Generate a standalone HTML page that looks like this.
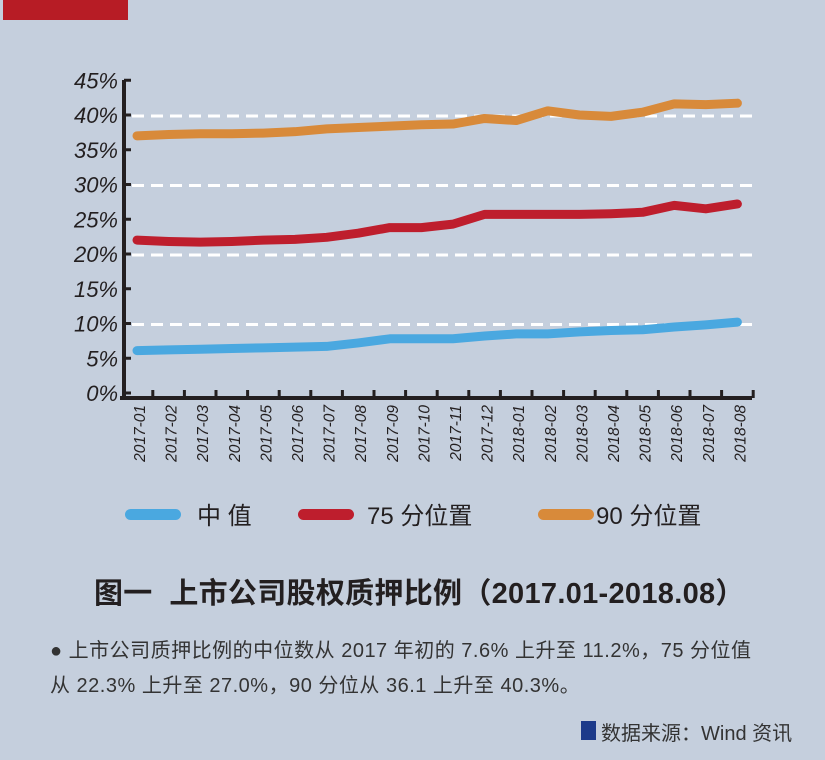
<!DOCTYPE html>
<html><head><meta charset="utf-8"><style>
body{margin:0;width:825px;height:760px;background:#c5cfdd;overflow:hidden;position:relative;font-family:"Liberation Sans","Noto Sans CJK SC",sans-serif}
.t{position:absolute;white-space:nowrap}
</style></head><body>
<div style="position:absolute;left:3px;top:0;width:125px;height:20px;background:#b71c25"></div>
<svg width="825" height="760" style="position:absolute;left:0;top:0" id="s">
<g stroke="#fff" stroke-width="3" stroke-dasharray="12,7">
<line x1="132" y1="116" x2="752" y2="116"/><line x1="132" y1="185.5" x2="752" y2="185.5"/><line x1="132" y1="255" x2="752" y2="255"/><line x1="132" y1="324.5" x2="752" y2="324.5"/>
</g>
<g id="lines" fill="none" stroke-width="9" stroke-linecap="round" stroke-linejoin="round"></g>
<g stroke="#231f20" stroke-width="4"><line x1="124" y1="80" x2="124" y2="400"/><line x1="120" y1="398" x2="752" y2="398"/></g>
<g id="ticks" stroke="#231f20" stroke-width="3"></g>
<g id="yl" font-family="Liberation Sans,sans-serif" font-style="italic" font-size="22" fill="#231f20" text-anchor="end"></g>
<g id="xl" font-family="Liberation Sans,sans-serif" font-style="italic" font-size="15.5" fill="#231f20" text-anchor="end"></g>
</svg>
<div class="t" style="left:125px;top:509px;width:56px;height:11px;border-radius:6px;background:#4aa8e0"></div>
<div class="t" style="left:197px;top:496px;font-size:24px;color:#231f20">中 值</div>
<div class="t" style="left:298px;top:509px;width:56px;height:11px;border-radius:6px;background:#be1e2d"></div>
<div class="t" style="left:367px;top:496px;font-size:24px;color:#231f20">75 分位置</div>
<div class="t" style="left:538px;top:509px;width:56px;height:11px;border-radius:6px;background:#d88a3a"></div>
<div class="t" style="left:596px;top:496px;font-size:24px;color:#231f20">90 分位置</div>
<div class="t" style="left:94px;top:570px;font-size:29px;font-weight:bold;color:#231f20;letter-spacing:0.3px">图一&nbsp; 上市公司股权质押比例（2017.01-2018.08）</div>
<div class="t" style="left:50px;top:634px;font-size:20px;line-height:35px;color:#333;letter-spacing:0.5px">● 上市公司质押比例的中位数从 2017 年初的 7.6% 上升至 11.2%，75 分位值<br>从 22.3% 上升至 27.0%，90 分位从 36.1 上升至 40.3%。</div>
<div class="t" style="left:581px;top:721px;width:15px;height:19px;background:#1c3a8a"></div>
<div class="t" style="left:601px;top:717px;font-size:20px;color:#333">数据来源：Wind 资讯</div>
<script>
var ns="http://www.w3.org/2000/svg";
function Y(v){return 393-6.95*v}
function X(i){return 137+31.6*i}
var d=[["#4aa8e0",[6.1,6.2,6.3,6.4,6.5,6.6,6.7,7.2,7.8,7.8,7.8,8.2,8.5,8.5,8.8,9.0,9.1,9.5,9.8,10.2]],
["#be1e2d",[22,21.8,21.7,21.8,22,22.1,22.4,23,23.8,23.8,24.3,25.7,25.7,25.7,25.7,25.8,26,27,26.5,27.2]],
["#d88a3a",[37,37.2,37.3,37.3,37.4,37.6,38.0,38.2,38.4,38.6,38.7,39.5,39.2,40.6,40.0,39.8,40.4,41.6,41.5,41.7]]];
var g=document.getElementById("lines");
d.forEach(function(s){var p=document.createElementNS(ns,"polyline");p.setAttribute("stroke",s[0]);p.setAttribute("points",s[1].map(function(v,i){return X(i)+","+Y(v)}).join(" "));g.appendChild(p);});
var lab=["45%","40%","35%","30%","25%","20%","15%","10%","5%","0%"];
var tg=document.getElementById("yl");
lab.forEach(function(l,k){var v=45-5*k;var t=document.createElementNS(ns,"text");t.setAttribute("x",118);t.setAttribute("y",Y(v)+8);t.textContent=l;tg.appendChild(t);
var ln=document.createElementNS(ns,"line");ln.setAttribute("x1",124);ln.setAttribute("x2",131);ln.setAttribute("y1",Y(v));ln.setAttribute("y2",Y(v));document.getElementById("ticks").appendChild(ln);});
var xl=document.getElementById("xl");
for(var i=0;i<20;i++){var yy=2017+(i>=12?1:0),m=(i%12)+1;var t=document.createElementNS(ns,"text");var x=X(i)+8;t.setAttribute("transform","translate("+x+",405) rotate(-90)");t.textContent=yy+"-"+(m<10?"0":"")+m;xl.appendChild(t);
var ln=document.createElementNS(ns,"line");var tx=X(i)+15.8;ln.setAttribute("x1",tx);ln.setAttribute("x2",tx);ln.setAttribute("y1",390);ln.setAttribute("y2",398);document.getElementById("ticks").appendChild(ln);}
</script>
</body></html>
